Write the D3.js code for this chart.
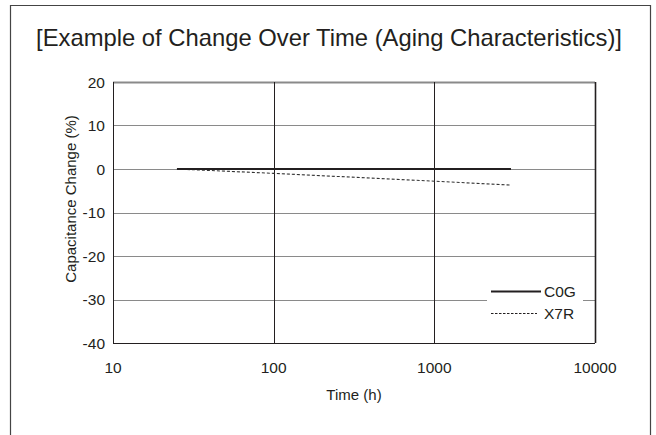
<!DOCTYPE html>
<html>
<head>
<meta charset="utf-8">
<script src="https://cdn.jsdelivr.net/npm/d3@7"></script>
<style>
  body { margin: 0; background: #fff; }
  svg { display: block; }
</style>
</head>
<body>
<div id="chart"></div>
<script>
// Data
const c0gTime = [25, 3000];
const c0gChange = [0, 0];
const x7rTime = [25, 100, 1000, 3000];
const x7rChange = [0, -1.0, -2.8, -3.7];
const xTicks = [10, 100, 1000, 10000];
const yTicks = [20, 10, 0, -10, -20, -30, -40];

// Constant
const width = 656;
const height = 435;
const margin = {top: 82, right: 61, bottom: 92, left: 113};
const innerWidth = width - margin.left - margin.right;
const innerHeight = height - margin.top - margin.bottom;
const fontFamily = '"Liberation Sans", Arial, Helvetica, sans-serif';
const textColor = '#231f20';
const tickFont = '15.5px';

const xScale = d3.scaleLog().domain([10, 10000]).range([0, innerWidth]);
const yScale = d3.scaleLinear().domain([-40, 20]).range([innerHeight, 0]);

const svg = d3.select('#chart').append('svg')
    .attr('width', width)
    .attr('height', height);

// outer frame (open at the bottom)
svg.append('path')
    .attr('d', `M10.5,${height} L10.5,5.5 L650.5,5.5 L650.5,${height}`)
    .attr('fill', 'none')
    .attr('stroke', '#444')
    .attr('stroke-width', 1.2);

svg.append('text')
    .attr('x', 329)
    .attr('y', 46)
    .attr('text-anchor', 'middle')
    .style('font-family', fontFamily)
    .style('font-size', '23.8px')
    .attr('fill', textColor)
    .text('[Example of Change Over Time (Aging Characteristics)]');

const g = svg.append('g')
    .attr('transform', `translate(${margin.left},${margin.top})`);

// horizontal grid lines
g.selectAll('.hgrid')
    .data(yTicks)
    .enter()
    .append('line')
    .attr('class', 'hgrid')
    .attr('x1', 0)
    .attr('x2', innerWidth)
    .attr('y1', d => Math.round(yScale(d)) + 0.5)
    .attr('y2', d => Math.round(yScale(d)) + 0.5)
    .attr('stroke', d => d === -40 ? '#231f20' : '#8a8a8a')
    .attr('stroke-width', d => d === 20 ? 2 : 1.2);

// vertical grid lines
g.selectAll('.vgrid')
    .data(xTicks)
    .enter()
    .append('line')
    .attr('class', 'vgrid')
    .attr('x1', d => Math.round(xScale(d)) + 0.5)
    .attr('x2', d => Math.round(xScale(d)) + 0.5)
    .attr('y1', 0)
    .attr('y2', innerHeight)
    .attr('stroke', '#231f20')
    .attr('stroke-width', d => d === 10000 ? 1.6 : 1);

// tick labels
g.selectAll('.xLabel')
    .data(xTicks)
    .enter()
    .append('text')
    .attr('class', 'xLabel')
    .attr('x', d => xScale(d))
    .attr('y', innerHeight + 30)
    .attr('text-anchor', 'middle')
    .style('font-family', fontFamily)
    .style('font-size', tickFont)
    .attr('fill', textColor)
    .text(d => String(d));

g.selectAll('.yLabel')
    .data(yTicks)
    .enter()
    .append('text')
    .attr('class', 'yLabel')
    .attr('x', -8)
    .attr('y', d => yScale(d) + 5.5)
    .attr('text-anchor', 'end')
    .style('font-family', fontFamily)
    .style('font-size', tickFont)
    .attr('fill', textColor)
    .text(d => String(d));

svg.append('text')
    .attr('x', margin.left + innerWidth / 2)
    .attr('y', 400)
    .attr('text-anchor', 'middle')
    .style('font-family', fontFamily)
    .style('font-size', '15px')
    .attr('fill', textColor)
    .text('Time (h)');

svg.append('text')
    .attr('transform', `translate(76,199) rotate(-90)`)
    .attr('text-anchor', 'middle')
    .style('font-family', fontFamily)
    .style('font-size', '15px')
    .attr('fill', textColor)
    .text('Capacitance Change (%)');

// series
const line = d3.line()
    .x(d => xScale(d[0]))
    .y(d => yScale(d[1]));

const x7rData = x7rTime.map((t, i) => [t, x7rChange[i]]);
const c0gData = c0gTime.map((t, i) => [t, c0gChange[i]]);

g.append('path')
    .datum(x7rData)
    .attr('d', line)
    .attr('fill', 'none')
    .attr('stroke', '#333')
    .attr('stroke-width', 1.1)
    .attr('stroke-dasharray', '3,2');

g.append('path')
    .datum(c0gData)
    .attr('d', line)
    .attr('fill', 'none')
    .attr('stroke', '#231f20')
    .attr('stroke-width', 2);

// legend
const legend = g.append('g');
const legendTop = yScale(-30);
legend.append('rect')
    .attr('x', 374)
    .attr('y', legendTop - 18)
    .attr('width', 96)
    .attr('height', 36)
    .attr('fill', '#fff');

const legendItems = [
    {name: 'C0G', y: legendTop - 8, width: 2, dash: null},
    {name: 'X7R', y: legendTop + 14, width: 1, dash: '2.5,1.5'}
];
legendItems.forEach(item => {
    legend.append('line')
        .attr('x1', 378)
        .attr('x2', item.dash ? 424 : 428)
        .attr('y1', item.y)
        .attr('y2', item.y)
        .attr('stroke', '#231f20')
        .attr('stroke-width', item.width)
        .attr('stroke-dasharray', item.dash);
    legend.append('text')
        .attr('x', 431)
        .attr('y', item.y + 5)
        .style('font-family', fontFamily)
        .style('font-size', tickFont)
        .attr('fill', textColor)
        .text(item.name);
});
</script>
</body>
</html>
